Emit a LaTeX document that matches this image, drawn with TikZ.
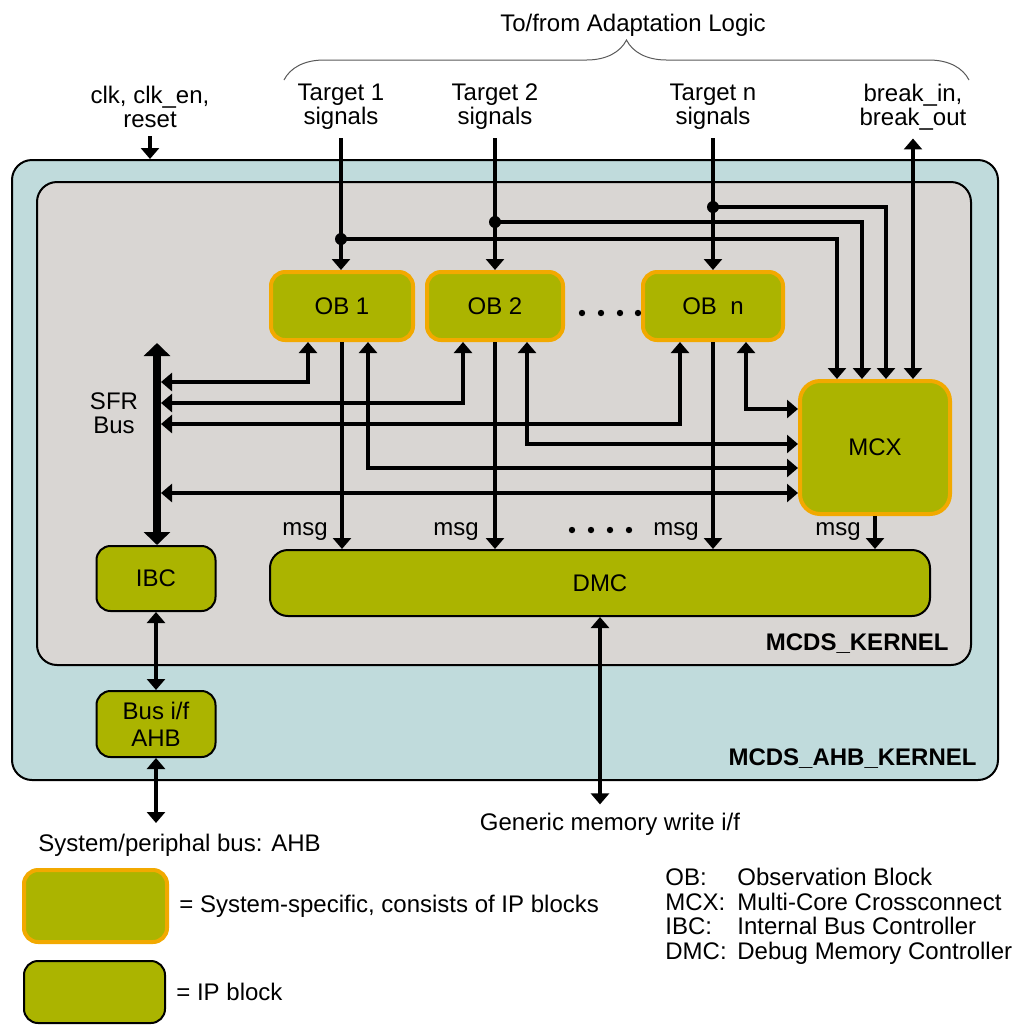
\documentclass[tikz,border=0pt]{standalone}
\usepackage{fontspec}
\setmainfont{Liberation Sans}
\usetikzlibrary{positioning, arrows.meta, calc, decorations.pathreplacing}
\definecolor{ipolive}{HTML}{ABB400}
\definecolor{sysorange}{HTML}{F2A900}
\definecolor{ahbblue}{HTML}{C0DBDC}
\definecolor{kernelgray}{HTML}{D9D6D3}

\begin{document}
\begin{tikzpicture}[
  x=0.5pt, y=-0.5pt, font=\fontsize{12}{12}\selectfont,
  ipbox/.style={draw=black, line width=1pt, fill=ipolive, rounded corners=7pt,
    align=center, inner sep=0pt},
  sysbox/.style={ipbox, draw=sysorange, line width=2pt},
  frame/.style={draw=black, line width=1pt, rounded corners=10pt, inner sep=0pt},
  txt/.style={align=center, inner sep=4pt},
  lbl/.style={font=\fontsize{12}{12}\selectfont\bfseries, inner sep=0pt},
  arr/.style={-{Triangle[length=5.5pt, width=9pt]}, line width=2pt},
  darr/.style={{Triangle[length=5.5pt, width=9pt]}-{Triangle[length=5.5pt, width=9pt]}, line width=2pt},
  bus/.style={{Triangle[length=6.5pt, width=13pt]}-{Triangle[length=6.5pt, width=13pt]}, line width=3.8pt},
  junction/.style={circle, fill=black, inner sep=0pt, minimum size=6pt}
]
\useasboundingbox (0,0) rectangle (1019,1025);

\node[frame, fill=ahbblue, minimum width=493pt, minimum height=310pt] (ahb) at (505,470) {};
\node[frame, fill=kernelgray, minimum width=467pt, minimum height=241.5pt] (kernel) at (504,423.5) {};
\node[lbl, anchor=east] (kernellbl) at ($(kernel.south east)+(-23,-22)$) {MCDS\_KERNEL};
\node[lbl, anchor=east] (ahblbl) at ($(ahb.south east)+(-22,-22)$) {MCDS\_AHB\_KERNEL};

\node[sysbox, minimum width=71pt, minimum height=34pt] (ob1) at (342,306) {OB 1};
\node[sysbox, minimum width=68pt, minimum height=34pt] (ob2) at (495,306) {OB 2};
\node[sysbox, minimum width=70pt, minimum height=34pt] (obn) at (713,306) {OB~ n};
\node[sysbox, minimum width=75pt, minimum height=66.5pt, rounded corners=10pt] (mcx) at (875,447.5) {MCX};
\node[ipbox, minimum width=330pt, minimum height=33pt, rounded corners=9pt] (dmc) at (600,583) {DMC};
\node[ipbox, minimum width=59.5pt, minimum height=32.5pt] (ibc) at (156,578.5) {IBC};
\node[ipbox, minimum width=59.5pt, minimum height=33pt] (busif) at (156,724) {Bus i/f\\[1.5pt]AHB};

\node[txt] (clk) at (150,107) {clk, clk\_en,\\reset};
\node[txt] (tgt1) at (341,107) {Target 1\\signals};
\node[txt] (tgt2) at (495,107) {Target 2\\signals};
\node[txt] (tgtn) at (713,107) {Target n\\signals};
\node[txt] (brk) at (913,107) {break\_in,\\break\_out};
\node[txt] (adapt) at (633,25) {To/from Adaptation Logic};
\node[txt] (sfr) at (114,413) {SFR\\Bus};
\node[txt] (msg1) at (305,532) {msg};
\node[txt] (msg2) at (456,532) {msg};
\node[txt] (msgn) at (676,532) {msg};
\node[txt] (msgx) at (838,532) {msg};

\draw[gray!70!black, line width=0.5pt, decorate, decoration={brace, amplitude=20pt}] (284,80) -- (969,80);

\draw[arr] (clk.south) -- (clk.south |- ahb.north);
\coordinate (j1) at (341,239);
\coordinate (j2) at (495,222);
\coordinate (jn) at (713,207);
\draw[arr] (tgt1.south) -- (tgt1.south |- ob1.north);
\draw[arr] (tgt2.south) -- (tgt2.south |- ob2.north);
\draw[arr] (tgtn.south) -- (tgtn.south |- obn.north);
\draw[arr] (j1) -| ($(mcx.north)+(-38,0)$);
\draw[arr] (j2) -| ($(mcx.north)+(-13,0)$);
\draw[arr] (jn) -| ($(mcx.north)+(11,0)$);
\draw[darr] (brk.south) -- (brk.south |- mcx.north);
\node[junction] at (j1) {};
\node[junction] at (j2) {};
\node[junction] at (jn) {};

\foreach \x in {582,601,620,638} \fill (\x,313) circle (1.6pt);
\foreach \x in {572,591,610,629} \fill (\x,530) circle (1.6pt);

\coordinate (sfrtop) at (157,343);
\draw[bus] (sfrtop) -- (sfrtop |- ibc.north);
\coordinate (s1) at (161,382);
\coordinate (s2) at (161,403);
\coordinate (s3) at (161,424);
\coordinate (s4) at (161,493);
\draw[darr] (s1) -| ($(ob1.south)+(-34,0)$);
\draw[darr] (s2) -| ($(ob2.south)+(-32,0)$);
\draw[darr] (s3) -| ($(obn.south)+(-33,0)$);
\draw[darr] (s4) -- (s4 -| mcx.west);
\draw[darr] ($(ob1.south)+(26,0)$) |- ($(mcx.west)+(0,20.5)$);
\draw[darr] ($(ob2.south)+(32,0)$) |- ($(mcx.west)+(0,-3.5)$);
\draw[darr] ($(obn.south)+(33,0)$) |- ($(mcx.west)+(0,-38.5)$);

\draw[arr] (ob1.south) -- (ob1.south |- dmc.north);
\draw[arr] (ob2.south) -- (ob2.south |- dmc.north);
\draw[arr] (obn.south) -- (obn.south |- dmc.north);
\draw[arr] (mcx.south) -- (mcx.south |- dmc.north);

\draw[darr] (ibc.south) -- (busif.north);
\coordinate (sysbus) at (156,823);
\draw[darr] (busif.south) -- (sysbus);
\node[txt, anchor=west] (sysbuslbl) at (30,845) {System/periphal bus: AHB};
\node[txt] (gen) at (610,824) {Generic memory write i/f};
\draw[darr] (dmc.south) -- (dmc.south |- gen.north);

\node[sysbox, minimum width=71.5pt, minimum height=36pt] (legsys) at (95.5,906) {};
\node[ipbox, minimum width=70.5pt, minimum height=31pt] (legip) at (94.5,992) {};
\node[txt, right=1pt of legsys] (legsystxt) {= System-specific, consists of IP blocks};
\node[txt, right=1pt of legip] (legiptxt) {= IP block};
\node[anchor=north west, inner sep=0pt] (abbr) at (665,868) {%
  \begin{tabular}{@{}p{36pt}@{}l@{}}
    OB: & Observation Block\\
    MCX: & Multi-Core Crossconnect\\
    IBC: & Internal Bus Controller\\
    DMC: & Debug Memory Controller
  \end{tabular}};
\end{tikzpicture}
\end{document}
